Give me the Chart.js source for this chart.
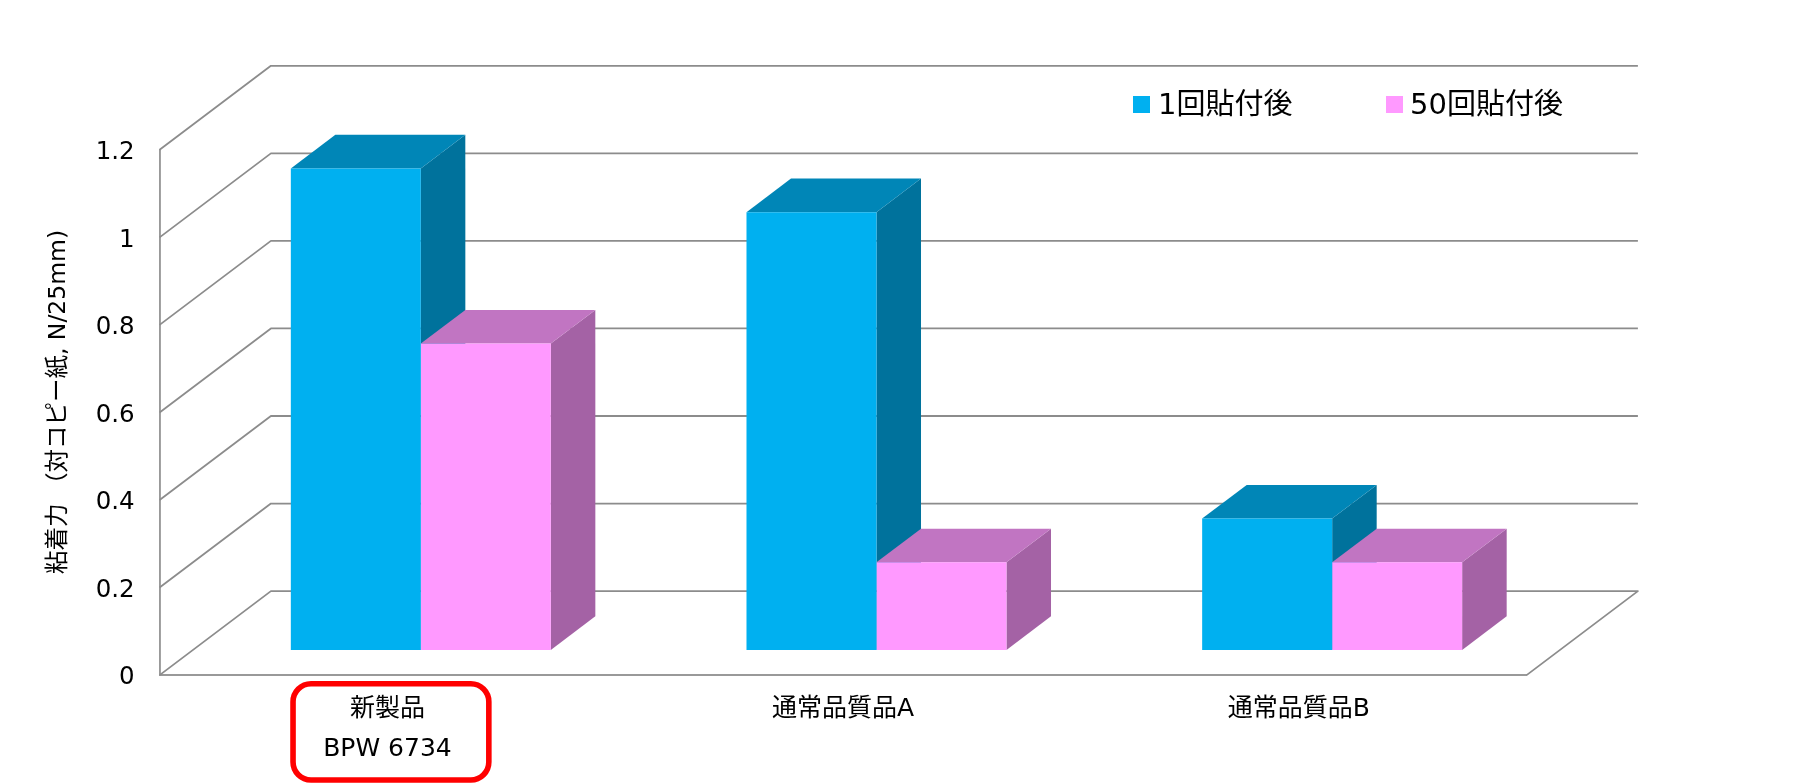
<!DOCTYPE html>
<html><head><meta charset="utf-8">
<style>html,body{margin:0;padding:0;background:#fff}canvas{display:block}</style>
<script src="https://cdn.jsdelivr.net/npm/chart.js@4"></script>
</head><body><canvas id="c" width="1803" height="783"></canvas>
<script>
const categories = [['新製品','BPW 6734'],'通常品質品A','通常品質品B'];
const seriesNames = ['1回貼付後','50回貼付後'];
const after1 = [1.1, 1.0, 0.3];
const after50 = [0.7, 0.2, 0.2];
const yTicks = [0,0.2,0.4,0.6,0.8,1,1.2];
const yTitle = '粘着力 （対コピー紙, N/25mm)';

const FONT = '"DejaVu Sans","Noto Sans CJK JP",sans-serif';
const GRID = '#8c8c8c';
const WALL = {dx:111.3, dy:84};
const GAP = 0.3, DEPTH = 0.4;
const shift = {x:WALL.dx*GAP, y:WALL.dy*GAP};
const depth = {x:WALL.dx*DEPTH, y:WALL.dy*DEPTH};
const faces = [
  {front:'#00B0F0', top:'#0086B7', side:'#00729C'},
  {front:'#FF99FF', top:'#C175C2', side:'#A462A5'}
];
const legendBoxes = [{x:1133,tx:1158},{x:1386,tx:1410}];
function poly(ctx, pts, fill){
  ctx.beginPath(); pts.forEach((p,i)=> i?ctx.lineTo(p[0],p[1]):ctx.moveTo(p[0],p[1])); ctx.closePath();
  ctx.fillStyle = fill; ctx.fill();
}
const plot3d = {
  id:'plot3d',
  beforeDatasetsDraw(chart){
    const {ctx, scales:{x,y}} = chart;
    ctx.save();
    ctx.strokeStyle = GRID; ctx.lineWidth = 1.8; ctx.lineJoin='round';
    yTicks.forEach(v=>{
      const py = y.getPixelForValue(v);
      ctx.beginPath();
      ctx.moveTo(x.left,py);
      ctx.lineTo(x.left+WALL.dx,py-WALL.dy);
      ctx.lineTo(x.right+WALL.dx,py-WALL.dy);
      if(v===0) ctx.lineTo(x.right,py);
      ctx.stroke();
    });
    ctx.restore();
    // depth faces, first series behind the second
    chart.data.datasets.forEach((d,index)=>{
      const f = faces[index];
      chart.getDatasetMeta(index).data.forEach(b=>{
        const p = b.getProps(['x','y','base','width'],true);
        const L = p.x-p.width/2+shift.x, R = p.x+p.width/2+shift.x;
        const T = p.y-shift.y, B = p.base-shift.y;
        poly(ctx,[[R,T],[R+depth.x,T-depth.y],[R+depth.x,B-depth.y],[R,B]],f.side);
        poly(ctx,[[L,T],[L+depth.x,T-depth.y],[R+depth.x,T-depth.y],[R,T]],f.top);
      });
    });
  },
  beforeDatasetDraw(chart){
    chart.ctx.save();
    chart.ctx.translate(shift.x,-shift.y);
  },
  afterDatasetDraw(chart){ chart.ctx.restore(); },
  afterDraw(chart){
    const {ctx, scales:{x}} = chart;
    const cx = x.getPixelForValue(0);
    ctx.save();
    // legend
    ctx.font = '29px '+FONT; ctx.textBaseline='middle'; ctx.textAlign='left';
    chart.data.datasets.forEach((d,i)=>{
      const lb = legendBoxes[i];
      ctx.fillStyle = d.backgroundColor; ctx.fillRect(lb.x,96,17,17);
      ctx.fillStyle = '#000'; ctx.fillText(d.label,lb.tx,106);
    });
    // highlight round the first category label
    ctx.strokeStyle = '#ff0000'; ctx.lineWidth = 5.6;
    ctx.beginPath();
    ctx.roundRect(cx-94.4,683.8,195.8,96.2,18);
    ctx.stroke();
    ctx.restore();
  }
};
new Chart(document.getElementById('c'),{
  type:'bar',
  data:{labels:categories,datasets:[
    {label:seriesNames[0],data:after1,backgroundColor:faces[0].front,clip:false},
    {label:seriesNames[1],data:after50,backgroundColor:faces[1].front,clip:false}
  ]},
  plugins:[plot3d],
  options:{
    responsive:false,animation:false,devicePixelRatio:1,
    layout:{padding:{top:149.8,right:276.4,left:0,bottom:0}},
    datasets:{bar:{categoryPercentage:260/455.67,barPercentage:1,borderWidth:0}},
    plugins:{tooltip:{enabled:false},legend:{display:false}},
    scales:{
      x:{
        grid:{display:false,drawTicks:false},
        border:{display:true,color:'#999999',width:1.9},
        ticks:{color:'#000',font:{family:FONT,size:25,lineHeight:1.6},padding:14,maxRotation:0,autoSkip:false},
        afterFit(s){s.height=107.9;}
      },
      y:{
        min:0,max:1.2,
        grid:{display:false,drawTicks:false},
        border:{display:true,color:'#999999',width:1.9},
        afterBuildTicks(s){s.ticks=yTicks.map(v=>({value:v}));},
        ticks:{color:'#000',font:{family:FONT,size:24.5},padding:25,callback:v=>String(v)},
        title:{display:true,text:yTitle,color:'#000',font:{family:FONT,size:23.5},padding:{top:45,bottom:0}},
        afterFit(s){
          s.width=159.6;
          if(!s._shifted){
            const t=s.drawTitle.bind(s), l=s.drawLabels.bind(s);
            s.drawTitle=function(){const c=s.ctx;c.save();c.translate(0,-10.5);t();c.restore();};
            s.drawLabels=function(a){const c=s.ctx;c.save();c.translate(0,3);l(a);c.restore();};
            s._shifted=true;
          }
        }
      }
    }
  }
});
</script></body></html>
